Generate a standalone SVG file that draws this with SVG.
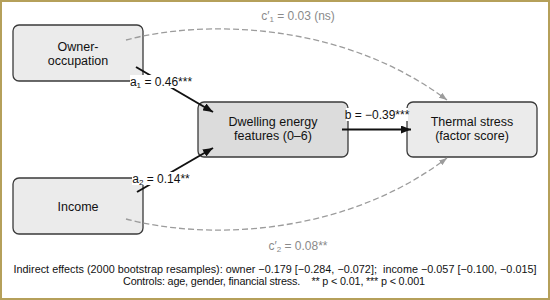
<svg xmlns="http://www.w3.org/2000/svg" width="550" height="300" viewBox="0 0 550 300">
<defs>
<style>
text{font-family:"Liberation Sans",Arial,sans-serif;fill:#111}
.node rect{stroke:#3a3a3a;stroke-width:1.3}
.n{font-size:12.5px;text-anchor:middle}
.lab{font-size:12px;text-anchor:middle}
.glab{font-size:12px;text-anchor:middle;fill:#8a8a8a}
.note{font-size:10.8px;text-anchor:middle;white-space:pre}
.sub{font-size:8px}
.solid{stroke:#111;stroke-width:2;fill:none}
.dash{stroke:#9c9c9c;stroke-width:1.3;fill:none;stroke-dasharray:6 3}
.bg{fill:#fff}
</style>
<marker id="ah" markerWidth="10" markerHeight="8" refX="10" refY="4" orient="auto" markerUnits="userSpaceOnUse">
<path d="M0,0 L10,4 L0,8 z" fill="#111"/>
</marker>
<marker id="gh" markerWidth="8" markerHeight="6" refX="8" refY="3" orient="auto" markerUnits="userSpaceOnUse">
<path d="M0,0 L8,3 L0,6 z" fill="#9c9c9c"/>
</marker>
</defs>
<rect x="1" y="1" width="548" height="298" fill="#fff" stroke="#b5a05a" stroke-width="2"/>

<g id="owner" class="node">
<rect x="13" y="25" width="130" height="56" rx="6" fill="#ebebeb"/>
<text class="n" x="78" y="51">Owner-</text>
<text class="n" x="78" y="65">occupation</text>
</g>
<g id="income" class="node">
<rect x="13" y="178" width="130" height="56" rx="6" fill="#ebebeb"/>
<text class="n" x="78" y="210.5">Income</text>
</g>
<g id="dwelling" class="node">
<rect x="198" y="102" width="150" height="55" rx="6" fill="#dcdcdc"/>
<text class="n" x="273" y="126">Dwelling energy</text>
<text class="n" x="273" y="140">features (0–6)</text>
</g>
<g id="thermal" class="node">
<rect x="407" y="102" width="130" height="55" rx="6" fill="#ebebeb"/>
<text class="n" x="472" y="126">Thermal stress</text>
<text class="n" x="472" y="140">(factor score)</text>
</g>

<g id="connectors">
<path class="dash" d="M126,40 C200,20 340,20 447,100" marker-end="url(#gh)"/>
<path class="dash" d="M126,219 C200,239 340,239 447,158" marker-end="url(#gh)"/>
<path class="solid" d="M136,67 L213,112" marker-end="url(#ah)"/>
<path class="solid" d="M137,192 L213,148" marker-end="url(#ah)"/>
<path class="solid" d="M342,129.5 L411,129.5" marker-end="url(#ah)"/>
<rect class="bg" x="130" y="75" width="62" height="13"/>
<text class="lab" x="161" y="86">a<tspan class="sub" dy="2">1</tspan><tspan dy="-2"> = 0.46***</tspan></text>
<rect class="bg" x="132" y="172" width="58" height="13"/>
<text class="lab" x="161" y="183">a<tspan class="sub" dy="2">2</tspan><tspan dy="-2"> = 0.14**</tspan></text>
<rect class="bg" x="346" y="108" width="62" height="13"/>
<text class="lab" x="377" y="119">b = −0.39***</text>
<text class="glab" x="298" y="20">c′<tspan class="sub" dy="2">1</tspan><tspan dy="-2"> = 0.03 (ns)</tspan></text>
<text class="glab" x="298" y="250">c′<tspan class="sub" dy="2">2</tspan><tspan dy="-2"> = 0.08**</tspan></text>
</g>

<text class="note" x="275" y="273" textLength="523" lengthAdjust="spacing">Indirect effects (2000 bootstrap resamples): owner −0.179 [−0.284, −0.072];  income −0.057 [−0.100, −0.015]</text>
<text class="note" x="274" y="284.5" textLength="302" lengthAdjust="spacing">Controls: age, gender, financial stress.    ** p &lt; 0.01, *** p &lt; 0.001</text>
</svg>
